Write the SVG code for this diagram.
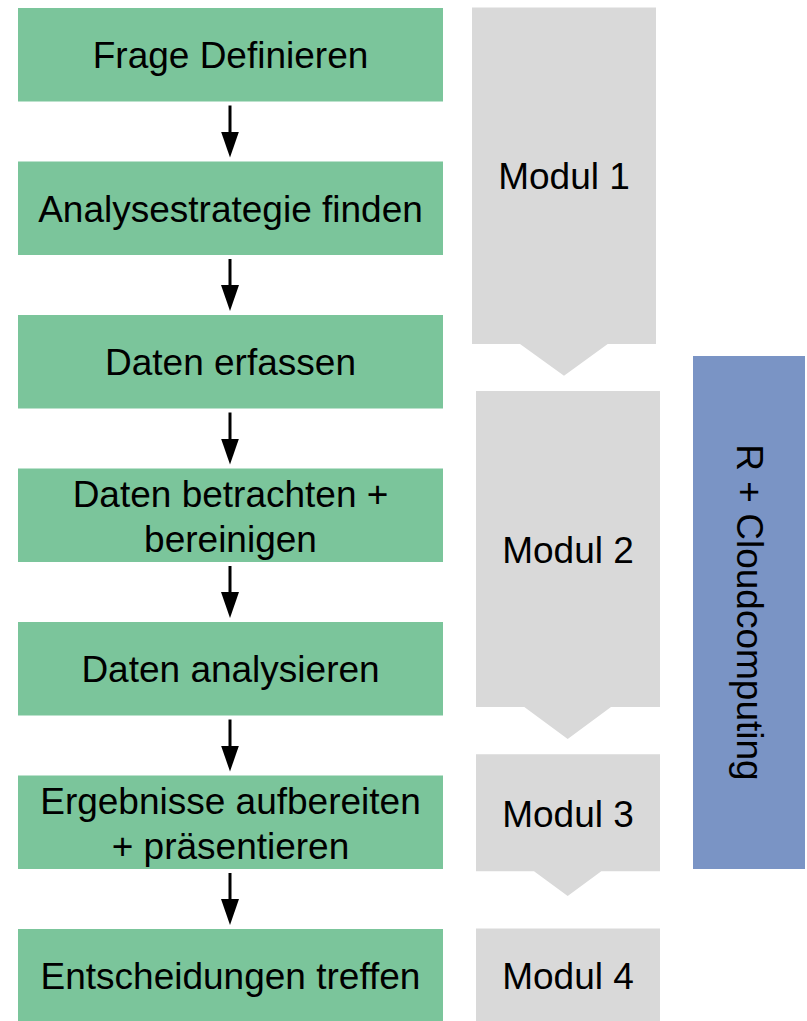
<svg xmlns="http://www.w3.org/2000/svg" width="807" height="1021" viewBox="0 0 807 1021">
<style>
.step{fill:#7bc59b;}
.mod{fill:#d9d9d9;}
.tool{fill:#7a94c5;}
text{font-family:"Liberation Sans",Arial,sans-serif;font-size:37px;fill:#000;text-anchor:middle;}
.arr{stroke:#000;stroke-width:3;fill:none;marker-end:url(#ah);}
</style>
<defs>
<marker id="ah" viewBox="0 0 26 18" refX="14" refY="9" markerWidth="26" markerHeight="18" orient="auto" markerUnits="userSpaceOnUse">
<path d="M0,0 L26,9 L0,18 Z" fill="#000"/>
</marker>
</defs>
<rect width="807" height="1021" fill="#fff"/>
<g id="step1"><rect class="step" x="18" y="8" width="425" height="93.5"/><text x="230.5" y="68">Frage Definieren</text></g>
<g id="step2"><rect class="step" x="18" y="161.5" width="425" height="93.5"/><text x="230.5" y="221.5">Analysestrategie finden</text></g>
<g id="step3"><rect class="step" x="18" y="315" width="425" height="93.5"/><text x="230.5" y="375">Daten erfassen</text></g>
<g id="step4"><rect class="step" x="18" y="468.5" width="425" height="93.5"/><text x="230.5" y="506.5">Daten betrachten +</text><text x="230.5" y="551.5">bereinigen</text></g>
<g id="step5"><rect class="step" x="18" y="622" width="425" height="93.5"/><text x="230.5" y="682">Daten analysieren</text></g>
<g id="step6"><rect class="step" x="18" y="775.5" width="425" height="93.5"/><text x="230.5" y="813.5">Ergebnisse aufbereiten</text><text x="230.5" y="858.5">+ präsentieren</text></g>
<g id="step7"><rect class="step" x="18" y="929" width="425" height="93.5"/><text x="230.5" y="989">Entscheidungen treffen</text></g>
<g id="modul1"><path class="mod" d="M472,7.5 H656 V344 H607.7 L564,375.7 L520,344 H472 Z"/><text x="564" y="189">Modul 1</text></g>
<g id="modul2"><path class="mod" d="M476,391 H660 V707 H611 L567.7,739 L524.3,707 H476 Z"/><text x="568" y="562.5">Modul 2</text></g>
<g id="modul3"><path class="mod" d="M476,754.3 H660 V871.3 H601.3 L567.7,896 L534,871.3 H476 Z"/><text x="568" y="826.5">Modul 3</text></g>
<g id="modul4"><rect class="mod" x="476" y="928.5" width="184" height="94"/><text x="568" y="989">Modul 4</text></g>
<g id="tool"><rect class="tool" x="693" y="356" width="112" height="513"/><text transform="translate(737,612.5) rotate(90)" x="0" y="0">R + Cloudcomputing</text></g>
<g id="connectors">
<line class="arr" x1="230" y1="105.5" x2="230" y2="145.5"/>
<line class="arr" x1="230" y1="259" x2="230" y2="299"/>
<line class="arr" x1="230" y1="412.5" x2="230" y2="452.5"/>
<line class="arr" x1="230" y1="566" x2="230" y2="606"/>
<line class="arr" x1="230" y1="719.5" x2="230" y2="759.5"/>
<line class="arr" x1="230" y1="873" x2="230" y2="913"/>
</g>
</svg>
